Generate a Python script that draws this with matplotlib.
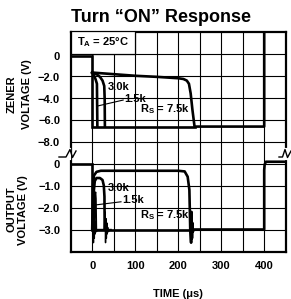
"""
Turn "ON" response: zener voltage and output voltage vs time
for three series resistors, drawn on one broken-axis grid.
"""
import matplotlib
matplotlib.use("Agg")
import matplotlib.pyplot as plt
from matplotlib.patches import Rectangle
from matplotlib.lines import Line2D

plt.rcParams.update({
    "font.family": "Liberation Sans",
    "font.weight": "bold",
    "mathtext.fontset": "custom",
    "mathtext.rm": "Liberation Sans:bold",
    "mathtext.it": "Liberation Sans:bold",
    "mathtext.bf": "Liberation Sans:bold",
    "axes.unicode_minus": True,
})

# ---- data ----------------------------------------------------------------
x_ticks = [0, 100, 200, 300, 400]
zener_ticks = [0, -2, -4, -6, -8]
zener_tick_labels = ["0", "\u22122.0", "\u22124.0", "\u22126.0", "\u22128.0"]
out_ticks = [0, -1, -2, -3]
out_tick_labels = ["0", "\u22121.0", "\u22122.0", "\u22123.0"]

# zener voltage (V)
zener_pre_t = [-50, 0, 0, 240]
zener_pre_v = [0, 0, -6.6, -6.6]
zener_7k5_t = [0, 50, 100, 150, 200, 212, 220, 225, 229, 233, 238, 400, 400, 450]
zener_7k5_v = [-1.55, -1.7, -1.85, -1.95, -2.08, -2.15, -2.3, -2.6, -3.5, -5.0, -6.6, -6.6, 3.0, 3.0]
zener_3k0_t = [0, 10, 18, 24, 28, 29, 29.5]
zener_3k0_v = [-1.55, -1.7, -1.95, -2.3, -2.8, -4.0, -6.6]
zener_1k5_t = [0, 4, 8, 11, 12]
zener_1k5_v = [-1.55, -1.8, -2.2, -2.6, -6.6]

# output voltage (V)
out_pre_t = [-50, 0, 0, 230]
out_pre_v = [0, 0, -3.0, -3.0]
out_7k5_t = [0, 1, 2, 4, 10, 20, 100, 200, 215, 222, 226, 228, 230, 231, 232, 233, 234, 236,
             400, 400, 401, 404, 450]
out_7k5_v = [-3.0, -2.0, -1.0, -0.55, -0.38, -0.33, -0.33, -0.33, -0.36, -0.6, -1.2, -3.0,
             -3.6, -2.2, -3.4, -2.7, -3.1, -3.0, -3.0, -0.3, -0.05, 0.08, 0.08]
out_3k0_t = [3, 4, 6, 10, 18, 24, 27, 28.5, 29]
out_3k0_v = [-3.0, -1.2, -0.8, -0.66, -0.66, -0.75, -1.0, -1.5, -3.0]
out_1k5_t = [6, 7, 8, 9, 10]
out_1k5_v = [-3.0, -1.4, -1.3, -1.6, -3.0]
ring_t = [0, 2, 3, 4, 5, 6, 7, 8, 10, 12, 20, 28, 30, 31, 32, 33, 34, 35, 36, 38, 40, 44]
ring_v = [-3.0, -2.3, -3.6, -2.4, -3.4, -2.6, -3.2, -2.9, -3.1, -3.0, -3.0, -3.0,
          -2.2, -3.6, -2.5, -3.4, -2.7, -3.2, -2.9, -3.1, -3.0, -3.0]

# ---- layout (pixel geometry of the 291x299 picture) ----------------------
W, H = 291, 299
fig = plt.figure(figsize=(W / 100, H / 100), dpi=100)


def fx(px):
    return px / W


def fy(py):
    return 1 - py / H


left, right = 70.7, 285.7
box_top, box_bot = 31.5, 251.7

# background grid
bg = fig.add_axes([fx(left), fy(box_bot), fx(right - left), fy(box_top) - fy(box_bot)])
bg.set_xlim(-50, 450)
bg.set_ylim(0, 10)
for x in range(0, 450, 50):
    bg.axvline(x, color="black", lw=0.8)
for y in range(1, 10):
    bg.axhline(y, color="black", lw=0.8)
bg.add_patch(Rectangle((-50, 9), 150, 1, facecolor="white", edgecolor="black", lw=0.9, zorder=3))
bg.text(25, 9.5, r"$T_A$ = 25°C", ha="center", va="center", fontsize=8, zorder=4)
bg.set_xticks([])
bg.set_yticks([])
for s in bg.spines.values():
    s.set_linewidth(1.6)

lw = 1.9

# top panel: zener voltage
ax1 = fig.add_axes([fx(left), fy(150), fx(right - left), fy(box_top) - fy(150)])
ax1.set_xlim(-50, 450)
ax1.set_ylim(-8.79, 2.29)
ax1.patch.set_alpha(0)
for s in ax1.spines.values():
    s.set_visible(False)
ax1.plot(zener_pre_t, zener_pre_v, color="black", lw=lw, solid_joinstyle="miter")
ax1.plot(zener_7k5_t, zener_7k5_v, color="black", lw=lw)
ax1.plot(zener_3k0_t, zener_3k0_v, color="black", lw=lw)
ax1.plot(zener_1k5_t, zener_1k5_v, color="black", lw=lw)
ax1.text(36, -2.9, "3.0k", fontsize=8, ha="left", va="center")
ax1.text(75, -4.0, "1.5k", fontsize=8, ha="left", va="center")
ax1.plot([12, 72], [-4.68, -4.12], color="black", lw=0.8)
ax1.text(112, -4.96, r"$R_S$ = 7.5k", fontsize=8, ha="left", va="center")
ax1.set_xticks([])
ax1.set_yticks(zener_ticks, zener_tick_labels)
ax1.tick_params(axis="y", length=0, pad=7.7, labelsize=8)

# bottom panel: output voltage
ax2 = fig.add_axes([fx(left), fy(box_bot), fx(right - left), fy(152) - fy(box_bot)])
ax2.set_xlim(-50, 450)
ax2.set_ylim(-4.009, 0.523)
ax2.patch.set_alpha(0)
for s in ax2.spines.values():
    s.set_visible(False)
ax2.plot(out_pre_t, out_pre_v, color="black", lw=lw, solid_joinstyle="miter")
ax2.plot(out_7k5_t, out_7k5_v, color="black", lw=lw)
ax2.plot(out_3k0_t, out_3k0_v, color="black", lw=lw)
ax2.plot(out_1k5_t, out_1k5_v, color="black", lw=1.0)
ax2.plot(ring_t, ring_v, color="black", lw=1.0)
ax2.text(36, -1.11, "3.0k", fontsize=8, ha="left", va="center")
ax2.text(70, -1.66, "1.5k", fontsize=8, ha="left", va="center")
ax2.plot([5, 67], [-1.89, -1.74], color="black", lw=0.8)
ax2.text(112, -2.34, r"$R_S$ = 7.5k", fontsize=8, ha="left", va="center")
ax2.set_xticks(x_ticks, [str(t) for t in x_ticks])
ax2.set_yticks(out_ticks, out_tick_labels)
ax2.tick_params(axis="both", length=0, labelsize=8)
ax2.tick_params(axis="y", pad=7.7)
ax2.tick_params(axis="x", pad=7.0)

# axis break marks on both sides
for xs in ([59, 66, 70, 72.5, 76], [279, 282.5, 285, 287.5, 291]):
    ys = [157, 157, 149.5, 157.5, 151]
    fig.add_artist(Line2D([fx(xs[1] + 3)] * 2, [fy(150), fy(158)], transform=fig.transFigure,
                          color="white", lw=3))
    fig.add_artist(Line2D([fx(x) for x in xs], [fy(y) for y in ys], transform=fig.transFigure,
                          color="black", lw=1.0))

# titles and axis labels
fig.text(fx(161), fy(17), "Turn \u201cON\u201d Response", ha="center", va="center", fontsize=13)
fig.text(fx(12), fy(94), "ZENER", rotation=90, ha="center", va="center", fontsize=8)
fig.text(fx(27), fy(94), "VOLTAGE (V)", rotation=90, ha="center", va="center", fontsize=8)
fig.text(fx(12), fy(209), "OUTPUT", rotation=90, ha="center", va="center", fontsize=8)
fig.text(fx(23.5), fy(210), "VOLTAGE (V)", rotation=90, ha="center", va="center", fontsize=8)
fig.text(fx(178), fy(294), "TIME (\u03bcs)", ha="center", va="center", fontsize=8)

fig.savefig("out.png", dpi=100)
